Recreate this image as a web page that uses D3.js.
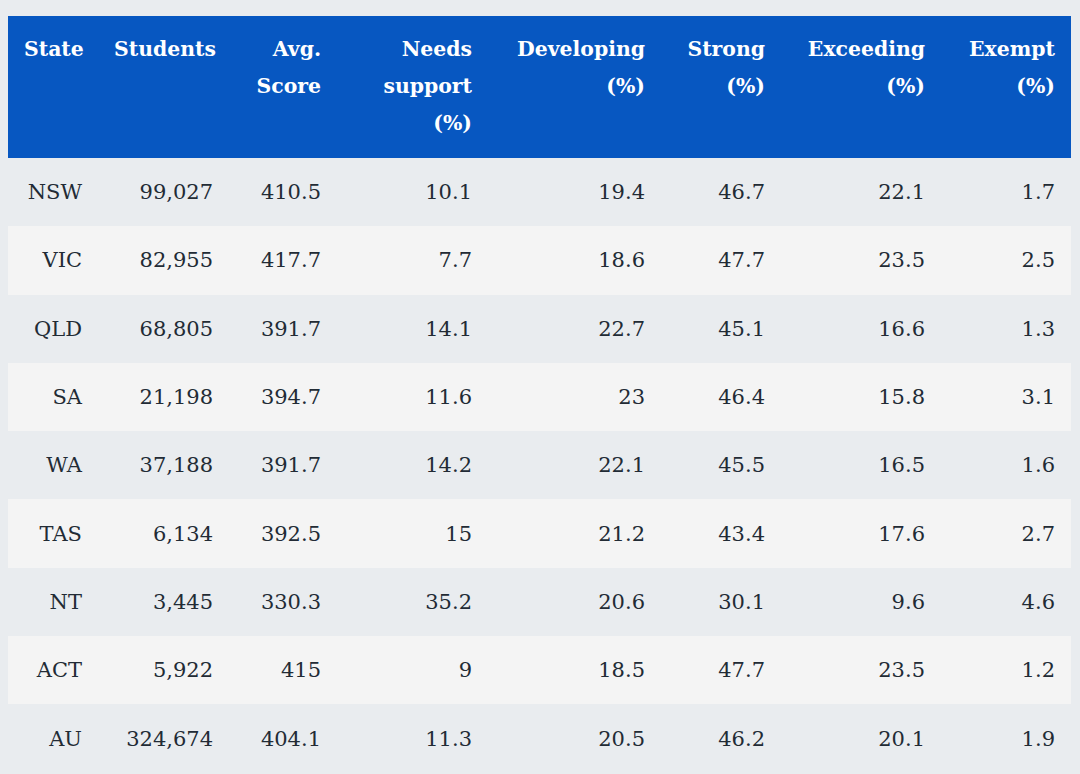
<!DOCTYPE html>
<html>
<head>
<meta charset="utf-8">
<script src="https://cdn.jsdelivr.net/npm/d3@7"></script>
<style>
  html, body { margin: 0; padding: 0; background: #e9ecef; }
  body { width: 1080px; height: 774px; overflow: hidden; }
  table { position: absolute; left: 8px; top: 16px; border-collapse: collapse; table-layout: fixed;
          font-family: "DejaVu Serif", serif; font-size: 21px; color: #222b35; }
  th { background: #0757c1; color: #fff; font-weight: bold; text-align: right; vertical-align: top;
       font-size: 20.4px; padding: 15px 16px 16px 16px; line-height: 37px; height: 111px; box-sizing: content-box; }
  td { text-align: right; padding: 0 16px; height: 68.3px; vertical-align: middle; }
  tr.even td { background: #f4f4f4; }
  tr.odd td { background: #e9ecef; }
</style>
</head>
<body>
<script>
const headers = [["State"], ["Students"], ["Avg.", "Score"], ["Needs", "support", "(%)"],
                 ["Developing", "(%)"], ["Strong", "(%)"], ["Exceeding", "(%)"], ["Exempt", "(%)"]];
const states = ["NSW", "VIC", "QLD", "SA", "WA", "TAS", "NT", "ACT", "AU"];
const students = [99027, 82955, 68805, 21198, 37188, 6134, 3445, 5922, 324674];
const avgScore = [410.5, 417.7, 391.7, 394.7, 391.7, 392.5, 330.3, 415, 404.1];
const needsSupport = [10.1, 7.7, 14.1, 11.6, 14.2, 15, 35.2, 9, 11.3];
const developing = [19.4, 18.6, 22.7, 23, 22.1, 21.2, 20.6, 18.5, 20.5];
const strong = [46.7, 47.7, 45.1, 46.4, 45.5, 43.4, 30.1, 47.7, 46.2];
const exceeding = [22.1, 23.5, 16.6, 15.8, 16.5, 17.6, 9.6, 23.5, 20.1];
const exempt = [1.7, 2.5, 1.3, 3.1, 1.6, 2.7, 4.6, 1.2, 1.9];

const colWidths = [90, 131, 108, 151, 173, 120, 160, 130];

const fmtInt = d3.format(",");
const rows = states.map((s, i) => [
  s, fmtInt(students[i]), String(avgScore[i]), String(needsSupport[i]),
  String(developing[i]), String(strong[i]), String(exceeding[i]), String(exempt[i])
]);

const table = d3.select("body").append("table")
  .style("width", d3.sum(colWidths) + "px");
table.append("colgroup").selectAll("col").data(colWidths).join("col")
  .style("width", d => d + "px");

const thead = table.append("thead").append("tr");
thead.selectAll("th").data(headers).join("th")
  .each(function(lines) {
    const th = d3.select(this);
    lines.forEach((l, k) => {
      if (k > 0) th.append("br");
      th.append("span").text(l);
    });
  });

const tbody = table.append("tbody");
tbody.selectAll("tr").data(rows).join("tr")
  .attr("class", (d, i) => i % 2 === 0 ? "odd" : "even")
  .selectAll("td").data(d => d).join("td")
  .text(d => d);
</script>
</body>
</html>
